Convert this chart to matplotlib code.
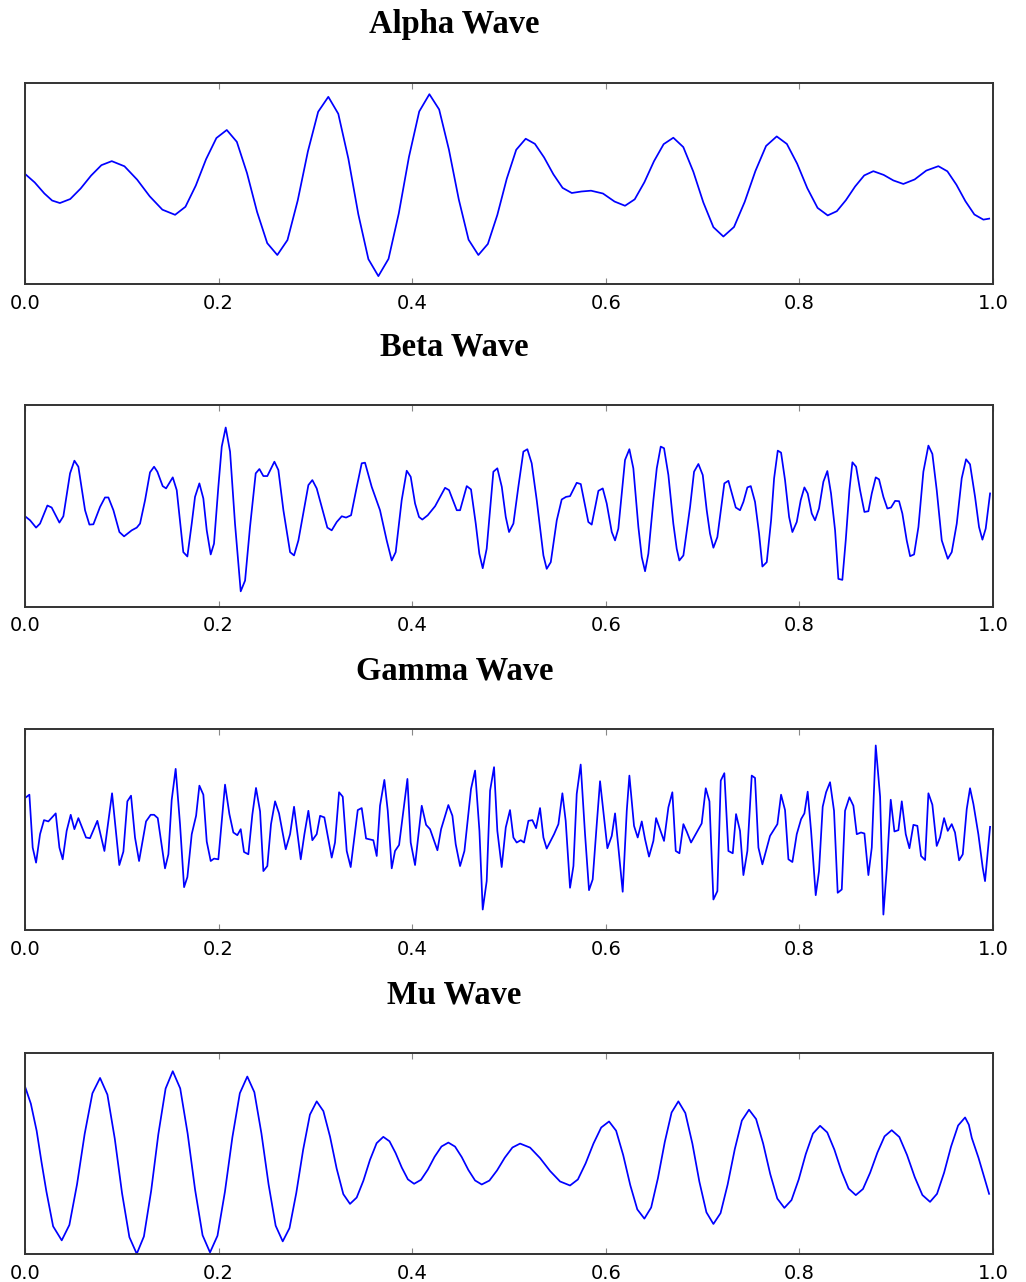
import numpy as np
import matplotlib.pyplot as plt

# Values (time in s, amplitude in arbitrary units)
alpha_t = [0.0, 0.010, 0.020, 0.028, 0.036, 0.0467, 0.0574, 0.0682, 0.0789, 0.0896,
           0.1027, 0.1158, 0.1288, 0.1419, 0.155, 0.1657, 0.1764, 0.1870, 0.1977, 0.2084,
           0.2188, 0.2293, 0.2397, 0.2502, 0.2606, 0.2711, 0.2817, 0.2922, 0.3028, 0.3133,
           0.3236, 0.3340, 0.3443, 0.3547, 0.365, 0.3755, 0.3861, 0.3966, 0.4072, 0.4177,
           0.4278, 0.4379, 0.4481, 0.4582, 0.4683, 0.4781, 0.4879, 0.4976, 0.5074, 0.5172,
           0.5267, 0.5362, 0.5458, 0.5553, 0.5648, 0.5748, 0.5847, 0.597, 0.609, 0.6198,
           0.6298, 0.6398, 0.6497, 0.6597, 0.6697, 0.6800, 0.6904, 0.7007, 0.7111, 0.7214,
           0.7324, 0.7434, 0.7545, 0.7655, 0.7765, 0.7870, 0.7976, 0.8081, 0.8187, 0.8292,
           0.8386, 0.8480, 0.8575, 0.8669, 0.8763, 0.887, 0.897, 0.9073, 0.919, 0.931,
           0.9435, 0.9528, 0.9621, 0.9714, 0.9807, 0.990, 0.996]
alpha_v = [0.95, 0.1, -1.0, -1.7, -1.95, -1.55, -0.51, 0.78, 1.82, 2.22,
           1.71, 0.38, -1.28, -2.61, -3.12, -2.32, -0.21, 2.41, 4.52, 5.32,
           4.14, 1.03, -2.83, -5.94, -7.12, -5.63, -1.69, 3.19, 7.13, 8.62,
           6.93, 2.47, -3.07, -7.53, -9.22, -7.50, -2.98, 2.64, 7.16, 8.88,
           7.36, 3.36, -1.60, -5.60, -7.12, -6.02, -3.13, 0.46, 3.35, 4.45,
           3.94, 2.59, 0.91, -0.44, -0.95, -0.80, -0.72, -1.0, -1.8, -2.22,
           -1.58, 0.12, 2.21, 3.91, 4.55, 3.62, 1.16, -1.89, -4.35, -5.28,
           -4.33, -1.84, 1.24, 3.73, 4.68, 3.93, 1.97, -0.47, -2.43, -3.18,
           -2.76, -1.66, -0.30, 0.80, 1.22, 0.85, 0.30, -0.05, 0.40, 1.28,
           1.72, 1.21, -0.12, -1.76, -3.09, -3.6, -3.5]

beta_points = [
    (0.0000, -1.02), (0.0052, -1.42), (0.0114, -2.15), (0.0155, -1.75), (0.0231, 0.05),
    (0.0275, -0.15), (0.0355, -1.65), (0.0396, -1.02), (0.0465, 3.25), (0.0510, 4.51),
    (0.0551, 3.91), (0.0620, -0.42), (0.0665, -1.85), (0.0706, -1.82), (0.0775, -0.09),
    (0.0826, 0.85), (0.0861, 0.85), (0.0913, -0.42), (0.0975, -2.59), (0.1023, -3.02),
    (0.1102, -2.42), (0.1154, -2.15), (0.1188, -1.75), (0.1240, 0.58), (0.1291, 3.35),
    (0.1333, 3.91), (0.1367, 3.41), (0.1422, 1.98), (0.1457, 1.75), (0.1498, 2.41),
    (0.1526, 2.85), (0.1567, 1.58), (0.1635, -4.59), (0.1677, -5.02), (0.1722, -1.75),
    (0.1756, 0.91), (0.1801, 2.25), (0.1842, 0.75), (0.1877, -2.42), (0.1918, -4.82),
    (0.1952, -3.75), (0.1997, 1.91), (0.2032, 5.91), (0.2073, 7.81), (0.2118, 5.41),
    (0.2169, -1.75), (0.2228, -8.49), (0.2273, -7.42), (0.2324, -2.09), (0.2383, 3.25),
    (0.2421, 3.68), (0.2462, 2.98), (0.2503, 2.98), (0.2576, 4.41), (0.2617, 3.58),
    (0.2669, -0.42), (0.2738, -4.59), (0.2779, -4.92), (0.2824, -3.42), (0.2886, -0.09),
    (0.2927, 2.08), (0.2968, 2.58), (0.3013, 1.75), (0.3065, -0.09), (0.3123, -2.15),
    (0.3168, -2.42), (0.3220, -1.59), (0.3272, -1.02), (0.3316, -1.15), (0.3368, -0.92),
    (0.3427, 1.91), (0.3478, 4.25), (0.3512, 4.31), (0.3581, 1.91), (0.3667, -0.42),
    (0.3736, -3.42), (0.3788, -5.42), (0.3829, -4.59), (0.3891, 0.58), (0.3943, 3.51),
    (0.3984, 2.91), (0.4029, 0.25), (0.4070, -1.09), (0.4104, -1.35), (0.4160, -0.92),
    (0.4236, -0.02), (0.4298, 1.08), (0.4339, 1.81), (0.4380, 1.58), (0.4460, -0.42),
    (0.4494, -0.42), (0.4563, 1.98), (0.4607, 1.65), (0.4656, -1.75), (0.4693, -4.75),
    (0.4728, -6.19), (0.4769, -4.25), (0.4838, 3.41), (0.4879, 3.75), (0.4925, 1.91),
    (0.4966, -1.09), (0.5000, -2.59), (0.5045, -1.75), (0.5096, 1.91), (0.5148, 5.41),
    (0.5189, 5.65), (0.5234, 4.25), (0.5286, 0.58), (0.5355, -4.92), (0.5389, -6.25),
    (0.5431, -5.59), (0.5493, -1.42), (0.5544, 0.65), (0.5589, 0.91), (0.5630, 0.98),
    (0.5699, 2.31), (0.5741, 2.18), (0.5819, -1.59), (0.5854, -1.85), (0.5923, 1.51),
    (0.5968, 1.75), (0.6009, 0.25), (0.6061, -2.59), (0.6095, -3.42), (0.6129, -2.25),
    (0.6198, 4.58), (0.6243, 5.65), (0.6284, 3.75), (0.6336, -2.09), (0.6371, -5.09),
    (0.6405, -6.49), (0.6439, -4.75), (0.6491, 0.58), (0.6526, 3.75), (0.6567, 5.91),
    (0.6601, 5.75), (0.6646, 3.08), (0.6697, -1.75), (0.6732, -4.25), (0.6759, -5.42),
    (0.6801, -4.92), (0.6870, -0.09), (0.6911, 3.41), (0.6956, 4.18), (0.7001, 3.08),
    (0.7042, -0.42), (0.7076, -2.75), (0.7111, -4.15), (0.7152, -3.09), (0.7224, 2.25),
    (0.7266, 2.51), (0.7307, 1.08), (0.7342, -0.15), (0.7386, -0.42), (0.7421, 0.41),
    (0.7462, 1.85), (0.7497, 1.98), (0.7541, 0.41), (0.7583, -2.75), (0.7617, -6.02),
    (0.7662, -5.59), (0.7707, -1.42), (0.7738, 2.75), (0.7776, 5.51), (0.7810, 5.31),
    (0.7851, 2.58), (0.7893, -1.09), (0.7927, -2.59), (0.7972, -1.59), (0.8013, 0.58),
    (0.8051, 1.85), (0.8085, 1.25), (0.8127, -0.75), (0.8161, -1.42), (0.8202, -0.25),
    (0.8247, 2.41), (0.8288, 3.48), (0.8326, 1.25), (0.8368, -2.42), (0.8402, -7.25),
    (0.8443, -7.35), (0.8478, -3.42), (0.8516, 1.58), (0.8547, 4.35), (0.8585, 3.91),
    (0.8626, 1.58), (0.8671, -0.59), (0.8712, -0.52), (0.8747, 1.25), (0.8788, 2.85),
    (0.8822, 2.65), (0.8867, 0.91), (0.8908, -0.25), (0.8946, -0.15), (0.8988, 0.51),
    (0.9029, 0.48), (0.9063, -0.75), (0.9108, -3.42), (0.9143, -4.99), (0.9184, -4.82),
    (0.9229, -2.09), (0.9280, 3.41), (0.9332, 6.01), (0.9373, 5.18), (0.9418, 1.58),
    (0.9470, -3.42), (0.9532, -5.25), (0.9573, -4.59), (0.9625, -1.75), (0.9676, 2.75),
    (0.9721, 4.65), (0.9762, 4.15), (0.9814, 0.91), (0.9855, -2.09), (0.9890, -3.35),
    (0.9924, -2.25), (0.9969, 1.25),
]

gamma_points = [
    (0.0000, 3.18), (0.0045, 3.51), (0.0079, -1.75), (0.0114, -3.25), (0.0155, -0.42),
    (0.0196, 0.98), (0.0241, 0.85), (0.0317, 1.65), (0.0355, -1.75), (0.0389, -2.92),
    (0.0430, -0.09), (0.0472, 1.51), (0.0510, 0.08), (0.0551, 1.18), (0.0630, -0.75),
    (0.0671, -0.82), (0.0747, 0.91), (0.0820, -2.09), (0.0899, 3.65), (0.0974, -3.49),
    (0.1016, -2.15), (0.1057, 2.85), (0.1095, 3.41), (0.1136, -0.75), (0.1178, -3.09),
    (0.1250, 0.85), (0.1298, 1.51), (0.1333, 1.51), (0.1371, 1.18), (0.1446, -3.82),
    (0.1481, -2.42), (0.1515, 2.98), (0.1556, 6.08), (0.1601, 0.58), (0.1643, -5.69),
    (0.1677, -4.69), (0.1722, -0.42), (0.1767, 1.41), (0.1801, 4.41), (0.1842, 3.51),
    (0.1877, -1.15), (0.1918, -3.09), (0.1952, -2.85), (0.1997, -2.92), (0.2066, 4.51),
    (0.2111, 1.58), (0.2152, -0.25), (0.2193, -0.52), (0.2228, 0.08), (0.2262, -2.19),
    (0.2307, -2.42), (0.2348, 1.51), (0.2386, 4.18), (0.2428, 1.85), (0.2462, -4.09),
    (0.2503, -3.59), (0.2541, 0.58), (0.2583, 2.85), (0.2624, 1.65), (0.2693, -1.92),
    (0.2738, -0.42), (0.2779, 2.31), (0.2848, -2.92), (0.2886, -0.42), (0.2927, 1.91),
    (0.2968, -1.02), (0.3013, -0.42), (0.3048, 1.41), (0.3092, 1.25), (0.3168, -2.75),
    (0.3202, -1.25), (0.3244, 3.75), (0.3282, 3.31), (0.3323, -2.09), (0.3364, -3.69),
    (0.3437, 1.98), (0.3478, 2.18), (0.3523, -0.85), (0.3598, -1.02), (0.3633, -2.59),
    (0.3667, 2.41), (0.3712, 4.98), (0.3747, 1.91), (0.3788, -3.82), (0.3822, -2.09),
    (0.3864, -1.49), (0.3950, 5.08), (0.3984, -1.25), (0.4029, -3.49), (0.4098, 2.41),
    (0.4143, 0.51), (0.4184, 0.08), (0.4260, -2.02), (0.4298, 0.08), (0.4373, 2.48),
    (0.4415, 1.41), (0.4449, -1.42), (0.4494, -3.59), (0.4539, -2.09), (0.4607, 4.08),
    (0.4649, 5.91), (0.4694, -0.09), (0.4728, -7.92), (0.4769, -5.09), (0.4804, 3.91),
    (0.4845, 6.25), (0.4879, -0.09), (0.4924, -3.69), (0.4966, 0.25), (0.5010, 1.98),
    (0.5045, -0.75), (0.5079, -1.25), (0.5121, -1.02), (0.5155, -1.25), (0.5200, 0.91),
    (0.5241, 0.98), (0.5279, 0.18), (0.5320, 2.18), (0.5355, -0.75), (0.5389, -1.85),
    (0.5465, -0.42), (0.5510, 0.58), (0.5551, 3.65), (0.5585, 0.91), (0.5630, -5.75),
    (0.5665, -3.59), (0.5699, 3.58), (0.5740, 6.51), (0.5785, -0.42), (0.5826, -5.99),
    (0.5864, -4.92), (0.5906, 0.58), (0.5940, 4.85), (0.6016, -1.82), (0.6061, -0.59),
    (0.6095, 1.65), (0.6140, -2.75), (0.6174, -6.15), (0.6216, 1.91), (0.6243, 5.41),
    (0.6291, 0.41), (0.6329, -0.75), (0.6371, 0.85), (0.6405, -0.92), (0.6446, -2.65),
    (0.6491, -1.09), (0.6519, 1.18), (0.6601, -1.09), (0.6646, 2.25), (0.6687, 3.75),
    (0.6722, -2.09), (0.6760, -2.32), (0.6801, 0.58), (0.6835, -0.15), (0.6880, -1.25),
    (0.6990, 0.65), (0.7032, 4.15), (0.7070, 2.85), (0.7111, -6.92), (0.7152, -6.09),
    (0.7187, 4.91), (0.7224, 5.65), (0.7266, -2.09), (0.7311, -2.32), (0.7345, 1.58),
    (0.7386, -0.09), (0.7421, -4.49), (0.7462, -2.09), (0.7507, 5.41), (0.7541, 5.18),
    (0.7576, -1.75), (0.7617, -3.42), (0.7696, -0.59), (0.7772, 0.58), (0.7810, 3.51),
    (0.7851, 1.98), (0.7886, -2.92), (0.7927, -3.19), (0.7972, -0.42), (0.8017, 1.08),
    (0.8051, 1.65), (0.8085, 3.81), (0.8120, -0.09), (0.8168, -6.49), (0.8202, -4.09),
    (0.8240, 2.31), (0.8275, 3.75), (0.8316, 4.75), (0.8357, 1.91), (0.8395, -6.25),
    (0.8437, -5.92), (0.8471, 1.91), (0.8516, 3.25), (0.8557, 2.41), (0.8592, -0.42),
    (0.8636, -0.25), (0.8671, -0.35), (0.8712, -4.49), (0.8747, -1.75), (0.8788, 8.41),
    (0.8833, 3.31), (0.8867, -8.42), (0.8902, -3.82), (0.8943, 3.01), (0.8981, -0.15),
    (0.9022, -0.02), (0.9057, 2.85), (0.9098, -0.42), (0.9136, -1.82), (0.9177, 0.51),
    (0.9218, 0.41), (0.9256, -2.59), (0.9298, -2.99), (0.9332, 3.65), (0.9373, 2.51),
    (0.9418, -1.59), (0.9452, -0.75), (0.9494, 1.18), (0.9532, -0.09), (0.9573, 0.58),
    (0.9607, -0.25), (0.9649, -3.02), (0.9687, -2.42), (0.9728, 2.08), (0.9762, 4.15),
    (0.9797, 2.58), (0.9848, -0.42), (0.9893, -3.75), (0.9917, -5.09), (0.9969, 0.31),
]

mu_t = [0.0, 0.006, 0.012, 0.017, 0.022, 0.029, 0.0379,
        0.0458, 0.0537, 0.0616, 0.0696, 0.0775, 0.0851, 0.0927, 0.1002, 0.1078, 0.1154,
        0.1228, 0.1303, 0.1377, 0.1452, 0.1526, 0.1603, 0.1680, 0.1757, 0.1834, 0.1911,
        0.1988, 0.2065, 0.2142, 0.2219, 0.2296, 0.2369, 0.2442, 0.2516, 0.2589, 0.2662,
        0.2732, 0.2802, 0.2873, 0.2943, 0.3013, 0.3082, 0.3151, 0.3219, 0.3288, 0.3357,
        0.3426, 0.3495, 0.3563, 0.3632, 0.3701, 0.3765, 0.3828, 0.3892, 0.3955, 0.4019,
        0.4090, 0.4161, 0.4231, 0.4302, 0.4373, 0.4442, 0.4511, 0.4580, 0.4649, 0.4718,
        0.4797, 0.4876, 0.4956, 0.5035, 0.5114, 0.5217, 0.5320, 0.5424, 0.5527, 0.5630,
        0.5711, 0.5791, 0.5872, 0.5952, 0.6033, 0.6106, 0.6179, 0.6252, 0.6325, 0.6398,
        0.6468, 0.6538, 0.6609, 0.6679, 0.6749, 0.6821, 0.6894, 0.6966, 0.7039, 0.7111,
        0.7185, 0.7258, 0.7332, 0.7405, 0.7479, 0.7552, 0.7625, 0.7698, 0.7771, 0.7844,
        0.7918, 0.7992, 0.8065, 0.8139, 0.8213, 0.8287, 0.8361, 0.8434, 0.8508, 0.8582,
        0.8656, 0.8730, 0.8805, 0.8879, 0.8953, 0.9032, 0.9111, 0.9191, 0.9270, 0.9349,
        0.9421, 0.9494, 0.9566, 0.9639, 0.9711, 0.975, 0.978, 0.985, 0.9959]
mu_v = [6.70, 5.0, 2.3, -0.8, -3.7, -7.2, -8.60,
        -7.07, -3.03, 1.99, 6.03, 7.56, 5.90, 1.52, -3.90, -8.28, -9.94,
        -8.21, -3.67, 1.96, 6.50, 8.23, 6.52, 2.01, -3.58, -8.09, -9.80,
        -8.14, -3.76, 1.66, 6.04, 7.70, 6.14, 2.04, -3.04, -7.14, -8.70,
        -7.38, -3.89, 0.42, 3.91, 5.23, 4.26, 1.71, -1.45, -4.00, -4.97,
        -4.34, -2.67, -0.60, 1.07, 1.70, 1.26, 0.09, -1.36, -2.53, -2.97,
        -2.58, -1.56, -0.28, 0.74, 1.13, 0.73, -0.31, -1.60, -2.64, -3.04,
        -2.65, -1.64, -0.37, 0.64, 1.03, 0.63, -0.41, -1.70, -2.74, -3.14,
        -2.54, -0.94, 1.03, 2.63, 3.23, 2.31, -0.11, -3.10, -5.52, -6.44,
        -5.33, -2.41, 1.20, 4.12, 5.23, 4.07, 1.02, -2.76, -5.81, -6.97,
        -5.89, -3.05, 0.48, 3.32, 4.40, 3.47, 1.03, -2.00, -4.44, -5.37,
        -4.59, -2.55, -0.02, 2.02, 2.80, 2.14, 0.42, -1.72, -3.45, -4.10,
        -3.49, -1.87, 0.13, 1.75, 2.36, 1.68, -0.10, -2.31, -4.09, -4.77,
        -3.97, -1.87, 0.73, 2.83, 3.63, 2.9, 1.6, -0.4, -3.97]

titles = ['Alpha Wave', 'Beta Wave', 'Gamma Wave', 'Mu Wave']
x_ticks = [0.0, 0.2, 0.4, 0.6, 0.8, 1.0]
x_labels = ['0.0', '0.2', '0.4', '0.6', '0.8', '1.0']

beta_t, beta_v = zip(*beta_points)
gamma_t, gamma_v = zip(*gamma_points)
waves = [(alpha_t, alpha_v), (beta_t, beta_v), (gamma_t, gamma_v), (mu_t, mu_v)]

fig = plt.figure(figsize=(10.26, 12.82), dpi=100)
bottoms = [0.7785, 0.5269, 0.2742, 0.0215]

for (t, v), title, b in zip(waves, titles, bottoms):
    ax = fig.add_axes([0.0244, b, 0.9435, 0.1568])
    ax.plot(t, v, color='#0000ff', lw=1.25, solid_joinstyle='round')
    ax.set_xlim(0, 1)
    ax.set_ylim(-10, 10)
    ax.set_xticks(x_ticks)
    ax.set_xticklabels(x_labels)
    ax.set_yticks([])
    ax.tick_params(axis='x', direction='in', top=True, length=4, width=0.8,
                   color='#888888', labelsize=14, pad=7)
    for s in ax.spines.values():
        s.set_linewidth(1.4)
        s.set_color('#333333')
    ax.set_title(title, x=0.4437, pad=36, fontsize=23.5, fontweight='bold',
                 family='Liberation Serif')

fig.savefig('out.png', dpi=100)
